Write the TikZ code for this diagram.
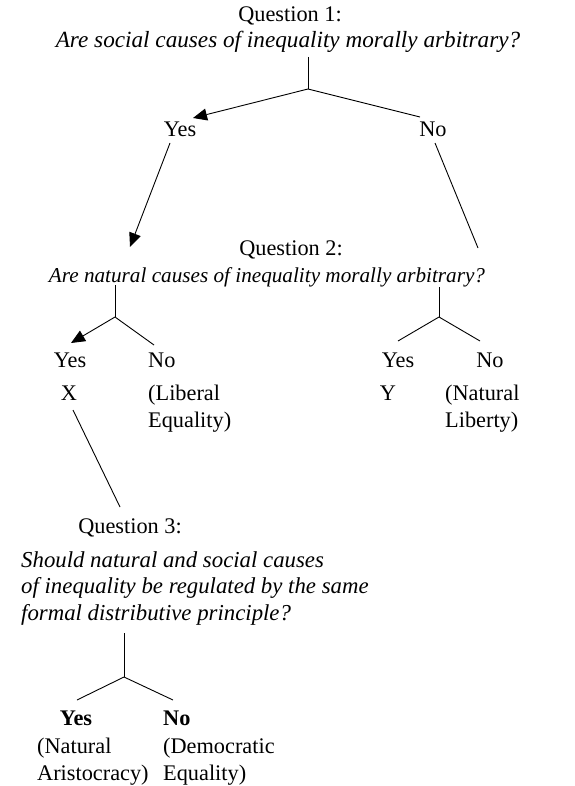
\documentclass[tikz,border=0pt]{standalone}
\usepackage{fontspec}
\setmainfont{Liberation Serif}
\usetikzlibrary{arrows.meta}
\newcommand{\qfont}{\fontsize{22.3}{26.5}\selectfont}
\tikzset{
  txt/.style={anchor=base, inner sep=0pt, font=\qfont},
  ltxt/.style={txt, anchor=base west, align=left},
  branch/.style={line width=0.9pt},
  pick/.style={branch, -{Triangle[length=14pt,width=12pt]}}
}
\begin{document}
\begin{tikzpicture}[x=1pt,y=-1pt]
  \useasboundingbox (0,0) rectangle (574,786);
  % question 1
  \node[txt] (q1) at (290,22) {Question 1:};
  \node[txt, font=\fontsize{23.2}{26.5}\selectfont] (q1t) at (288,48) {\textit{Are social causes of inequality morally arbitrary?}};
  \coordinate (q1top) at (308,57);
  \coordinate (q1j) at (308,89);
  \node[txt] (q1yes) at (180,137) {Yes};
  \node[txt] (q1no) at (433,137) {No};
  \coordinate (q1a) at (193,118);
  \coordinate (q1b) at (420,117);
  \draw[branch] (q1top) -- (q1j);
  \draw[pick] (q1j) -- (q1a);
  \draw[branch] (q1j) -- (q1b);
  % question 2
  \node[txt] (q2) at (291,255) {Question 2:};
  \node[txt, font=\fontsize{21.2}{26.5}\selectfont] (q2t) at (267,282) {\textit{Are natural causes of inequality morally arbitrary?}};
  \coordinate (q2a) at (170,143);
  \coordinate (q2b) at (130,247);
  \coordinate (q2c) at (435,143);
  \coordinate (q2d) at (478,248);
  \draw[pick] (q2a) -- (q2b);
  \draw[branch] (q2c) -- (q2d);
  % left branch
  \coordinate (lt) at (115,285);
  \coordinate (lj) at (115,317);
  \coordinate (la) at (71,343);
  \coordinate (lb) at (154,345);
  \draw[branch] (lt) -- (lj);
  \draw[pick] (lj) -- (la);
  \draw[branch] (lj) -- (lb);
  \node[txt] (lyes) at (70,367) {Yes};
  \node[ltxt] (lno) at (148,367) {No};
  \node[txt] (x) at (69,400) {X};
  \node[ltxt] (lib) at (148,427) {(Liberal\\Equality)};
  % right branch
  \coordinate (rt) at (439,287);
  \coordinate (rj) at (439,317);
  \coordinate (ra) at (398,341);
  \coordinate (rb) at (480,341);
  \draw[branch] (rt) -- (rj);
  \draw[branch] (rj) -- (ra);
  \draw[branch] (rj) -- (rb);
  \node[txt] (ryes) at (398,367) {Yes};
  \node[txt] (rno) at (490,367) {No};
  \node[txt] (y) at (388,400) {Y};
  \node[ltxt] (nat) at (445,427) {(Natural\\Liberty)};
  % question 3
  \coordinate (xa) at (73,410);
  \coordinate (xb) at (120,507);
  \draw[branch] (xa) -- (xb);
  \node[txt] (q3) at (130,533) {Question 3:};
  \node[ltxt, font=\fontsize{22.8}{26.5}\selectfont] (q3t) at (21,620) {\textit{Should natural and social causes}\\\textit{of inequality be regulated by the same}\\\textit{formal distributive principle?}};
  \coordinate (bt) at (124,633);
  \coordinate (bj) at (124,677);
  \coordinate (ba) at (77,700);
  \coordinate (bb) at (173,700);
  \draw[branch] (bt) -- (bj);
  \draw[branch] (bj) -- (ba);
  \draw[branch] (bj) -- (bb);
  \node[txt] (byes) at (76,725) {\textbf{Yes}};
  \node[ltxt] (bno) at (163,725) {\textbf{No}};
  \node[ltxt] (ari) at (37,780) {(Natural\\Aristocracy)};
  \node[ltxt] (dem) at (163,780) {(Democratic\\Equality)};
\end{tikzpicture}
\end{document}
